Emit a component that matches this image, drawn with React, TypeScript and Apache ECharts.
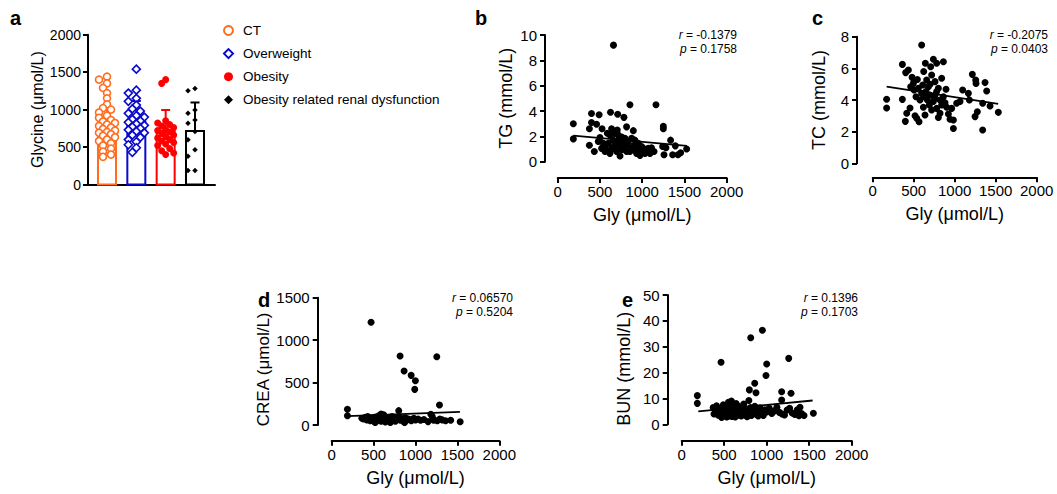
import React, { useEffect, useRef } from "react";
import * as echarts from "echarts";

const FONT = '"Liberation Sans", Arial, Helvetica, sans-serif';

// ---------- Panel a ----------
const GROUPS = ["CT", "Overweight", "Obesity", "Obesity related renal dysfunction"];
const GROUP_COLORS = ["#FF6D1F", "#0A0ACC", "#FF0000", "#000000"];
const GROUP_MEAN = [830, 840, 715, 715];
const GROUP_SD = [200, 275, 280, 380];
const CT_VALUES = [1440, 1400, 1350, 1290, 1220, 1150, 1070, 1020, 1000, 960, 920, 890, 860, 840, 820, 800, 780, 760, 740, 720, 700, 690, 670, 650, 630, 600, 580, 550, 520, 480, 440, 400, 370];
const OW_VALUES = [1540, 1260, 1220, 1150, 1110, 1060, 1010, 980, 950, 920, 900, 870, 850, 830, 810, 790, 770, 750, 730, 710, 690, 660, 630, 600, 570, 530, 490, 430];
const OB_VALUES = [1400, 1350, 850, 820, 800, 780, 760, 730, 720, 700, 680, 660, 640, 620, 600, 580, 560, 540, 520, 480, 450, 420, 400];
const ORD_VALUES = [1282, 1251, 995, 951, 862, 818, 707, 597, 464, 376, 186, 186];

// ---------- Panel b: TG vs Gly ----------
const TG_POINTS = [
  [660, 9.2], [185, 3.0], [185, 1.8], [400, 3.8], [490, 3.7], [400, 3.1], [460, 2.95], [375, 2.6], [525, 2.6], [625, 3.9],
  [710, 3.75], [784, 3.5], [855, 4.5], [1163, 4.5], [815, 2.75], [895, 2.45], [705, 2.5], [1250, 2.8], [1250, 2.6], [1336, 1.7],
  [1392, 1.25], [1242, 1.2], [1281, 1.1], [1258, 0.55], [1360, 0.55], [1423, 0.55], [1526, 1.0], [1455, 0.7], [375, 1.3], [433, 0.8],
  [500, 1.9], [540, 1.45], [580, 0.9], [618, 2.1], [658, 1.7], [678, 1.3], [697, 0.8], [737, 0.45], [757, 1.95], [776, 1.45],
  [796, 1.05], [836, 1.6], [855, 0.8], [875, 1.85], [895, 1.25], [926, 0.85], [954, 1.45], [974, 0.5], [1013, 1.05], [1052, 0.8],
  [1092, 0.65], [1140, 0.8], [587, 2.25], [638, 2.6], [560, 1.2], [520, 1.05], [480, 1.6], [618, 0.65], [658, 1.05], [717, 1.7],
  [737, 1.2], [816, 0.8], [914, 1.7], [934, 0.65], [993, 1.2], [1033, 0.65], [1072, 1.05], [717, 2.1], [678, 2.2], [796, 1.85],
  [600, 1.45], [560, 0.8], [640, 1.1], [700, 1.55], [760, 0.95], [820, 1.3], [880, 1.05], [940, 1.0], [1000, 0.85], [1110, 1.1],
];
const TG_FIT = [[185, 2.05], [1530, 1.25]];

// ---------- Panel c: TC vs Gly ----------
const TC_POINTS = [
  [170, 4.05], [170, 3.5], [362, 6.25], [402, 5.73], [435, 5.9], [398, 2.65], [362, 4.04], [455, 3.5], [480, 5.43], [496, 5.05],
  [504, 4.63], [516, 3.0], [537, 2.85], [565, 2.63], [545, 5.3], [597, 7.47], [642, 6.32], [622, 5.8], [658, 5.26], [679, 4.84],
  [597, 4.42], [577, 4.0], [618, 3.54], [638, 3.05], [707, 6.1], [740, 6.57], [780, 6.32], [862, 6.42], [719, 5.58], [760, 5.16],
  [801, 4.74], [841, 5.37], [699, 4.32], [740, 3.9], [780, 3.47], [821, 3.16], [719, 3.37], [801, 2.9], [862, 4.21], [882, 3.83],
  [902, 3.54], [923, 3.12], [943, 2.78], [984, 2.74], [984, 2.2], [963, 3.47], [1024, 3.8], [1097, 4.63], [1167, 4.42], [1179, 4.0],
  [1215, 5.62], [1256, 5.26], [1260, 5.05], [1248, 2.95], [1276, 3.26], [1341, 2.1], [1370, 5.1], [1390, 4.57], [1341, 3.8], [1431, 3.62],
  [1532, 3.22], [650, 4.53], [667, 4.0], [691, 3.68], [760, 4.32], [821, 4.0], [841, 3.68], [780, 4.53], [610, 4.95], [557, 4.74],
  [528, 4.21], [463, 4.84], [415, 3.16], [894, 4.68], [1065, 3.9], [700, 5.0], [755, 4.1], [630, 4.2],
];
const TC_FIT = [[170, 4.84], [1530, 3.75]];

// ---------- Panel d: CREA vs Gly ----------
const CREA_POINTS = [
  [470, 1210], [816, 813], [1254, 805], [864, 636], [948, 585], [999, 522], [991, 420], [1286, 236], [188, 185], [188, 110],
  [800, 169], [1183, 126], [1533, 39], [360, 80], [380, 70], [400, 90], [420, 60], [430, 100], [450, 75], [460, 50],
  [480, 85], [500, 60], [510, 40], [520, 95], [540, 70], [550, 55], [560, 110], [575, 80], [590, 45], [600, 65],
  [610, 90], [620, 120], [630, 50], [645, 75], [660, 60], [680, 85], [690, 40], [700, 70], [720, 100], [730, 55],
  [750, 80], [760, 45], [780, 65], [800, 90], [820, 55], [840, 75], [860, 40], [880, 85], [900, 60], [920, 70],
  [950, 50], [980, 80], [1000, 60], [1030, 70], [1060, 55], [1100, 65], [1150, 40], [1200, 100], [1220, 60], [1260, 50],
  [1290, 70], [1320, 60], [1360, 50], [1420, 55], [1214, 60], [590, 130], [700, 30], [640, 35], [520, 30], [870, 30],
];
const CREA_FIT = [[190, 105], [1530, 155]];

// ---------- Panel e: BUN vs Gly ----------
const BUN_POINTS = [
  [184, 11.1], [184, 8.1], [463, 24.0], [949, 36.4], [812, 33.5], [1000, 23.3], [992, 18.9], [859, 15.9], [796, 13.3], [874, 12.2],
  [1259, 25.5], [1176, 12.6], [1286, 12.0], [1176, 9.4], [1549, 4.3], [1439, 3.4], [1392, 6.6],
  [370, 6.5], [380, 4.0], [400, 5.5], [410, 7.2], [430, 3.5], [440, 6.0], [450, 4.8], [470, 2.6], [480, 5.2], [490, 7.5],
  [500, 3.8], [510, 6.2], [520, 4.5], [530, 2.8], [540, 5.8], [550, 8.5], [555, 3.2], [560, 6.8], [570, 4.2], [580, 5.0],
  [585, 9.0], [590, 3.0], [600, 7.2], [605, 5.5], [610, 4.0], [620, 6.0], [630, 2.8], [640, 8.0], [645, 4.6], [650, 5.8],
  [660, 3.5], [670, 7.0], [680, 4.8], [690, 6.2], [700, 3.2], [710, 5.5], [720, 4.2], [730, 7.8], [740, 3.6], [750, 6.0],
  [760, 4.8], [770, 2.9], [780, 5.6], [790, 9.2], [800, 4.2], [810, 6.5], [820, 3.4], [840, 5.2], [860, 7.0], [870, 4.0],
  [890, 5.8], [900, 3.2], [920, 6.4], [940, 4.6], [960, 3.4], [980, 5.6], [1000, 4.8], [1030, 6.2], [1060, 4.2], [1090, 5.2],
  [1120, 6.6], [1150, 4.6], [1180, 4.0], [1210, 3.6], [1240, 5.5], [1270, 6.2], [1300, 4.4], [1330, 3.8], [1360, 5.6], [1380, 3.3], [1410, 4.2],
];
const BUN_FIT = [[195, 5.0], [1540, 9.2]];

const STATS = [
  { r: "-0.1379", p: "0.1758" },
  { r: "-0.2075", p: "0.0403" },
  { r: "0.06570", p: "0.5204" },
  { r: "0.1396", p: "0.1703" },
];

// layout (pixels)
const A_GRID = { left: 88, top: 34.7, width: 127, height: 149.8 };
const A_XMIN = 0.352;
const A_XMAX = 4.682;
const A_PX_PER_UNIT = A_GRID.width / (A_XMAX - A_XMIN);
const A_PX_PER_VAL = A_GRID.height / 2000;

function swarm(values: number[], minDist: number, step: number, maxK: number): number[] {
  const placed: { dx: number; py: number }[] = [];
  return values.map((v) => {
    const py = v * A_PX_PER_VAL;
    let best = 0;
    let bestScore = -1;
    let chosen: number | null = null;
    for (let k = 0; k <= maxK && chosen === null; k++) {
      const cands = k === 0 ? [0] : [-k, k];
      for (const s of cands) {
        const dx = s * step;
        let minD = Infinity;
        for (const p of placed) {
          const d = Math.hypot(p.dx - dx, p.py - py);
          if (d < minD) minD = d;
        }
        if (minD >= minDist) {
          chosen = dx;
          break;
        }
        if (minD > bestScore) {
          bestScore = minD;
          best = dx;
        }
      }
    }
    const dx = chosen === null ? best : chosen;
    placed.push({ dx, py });
    return dx;
  });
}

function groupPoints(values: number[], g: number, minDist: number, step: number, maxK: number) {
  const offs = swarm(values, minDist, step, maxK);
  return values.map((v, i) => [g + offs[i] / A_PX_PER_UNIT, v]);
}

export default function App() {
  const ref = useRef<HTMLDivElement>(null);
  useEffect(() => {
    if (!ref.current) return;
    const chart = echarts.init(ref.current, undefined, { renderer: "svg" });

    const axisLine = { show: true, onZero: false, lineStyle: { color: "#000", width: 2 } };
    const axisTick = { show: true, length: 5, lineStyle: { color: "#000", width: 2 } };
    const label = (fs: number, margin: number) => ({
      color: "#000", fontSize: fs, fontFamily: FONT, margin, formatter: (v: number) => String(v),
    });
    const nameStyle = (fs: number, shiftDown = 0) => ({
      color: "#000", fontSize: fs, fontFamily: FONT, padding: [0, shiftDown * 2, 0, 0],
    });

    const panels = [
      { grid: { left: 557.7, top: 35, width: 169, height: 126.7 }, yOff: 12.7, xOff: 16.3, ymax: 10, yint: 2, name: "TG (mmol/L)", gap: 30, nfs: 18, shift: 0, pts: TG_POINTS, fit: TG_FIT },
      { grid: { left: 872.7, top: 36.7, width: 164, height: 126.6 }, yOff: 15.7, xOff: 14, ymax: 8, yint: 2, name: "TC (mmol/L)", gap: 29, nfs: 18, shift: 0, pts: TC_POINTS, fit: TC_FIT },
      { grid: { left: 331.7, top: 297.7, width: 167.6, height: 127.3 }, yOff: 14, xOff: 15.7, ymax: 1500, yint: 500, name: "CREA (μmol/L)", gap: 46, nfs: 17, shift: 8, pts: CREA_POINTS, fit: CREA_FIT },
      { grid: { left: 681.7, top: 295, width: 170, height: 129.3 }, yOff: 14, xOff: 16.4, ymax: 50, yint: 10, name: "BUN (mmol/L)", gap: 35, nfs: 18, shift: 9, pts: BUN_POINTS, fit: BUN_FIT },
    ];

    const grids: any[] = [{ ...A_GRID, outerBoundsMode: "none" }];
    const xAxes: any[] = [
      {
        gridIndex: 0, type: "value", min: A_XMIN, max: A_XMAX, position: "bottom",
        axisLine, axisTick: { show: false }, axisLabel: { show: false }, splitLine: { show: false },
      },
    ];
    const yAxes: any[] = [
      {
        gridIndex: 0, type: "value", min: 0, max: 2000, interval: 500, position: "left",
        axisLine, axisTick, splitLine: { show: false },
        axisLabel: label(14, 7),
        name: "Glycine (μmol/L)", nameLocation: "middle", nameGap: 43, nameTextStyle: nameStyle(16),
      },
    ];

    const series: any[] = [
      {
        type: "custom", xAxisIndex: 0, yAxisIndex: 0, z: 1,
        data: GROUP_MEAN.map((m, i) => [i + 1, m, GROUP_SD[i]]),
        encode: { x: 0, y: 1 },
        renderItem: (params: any, api: any) => {
          const g = api.value(0);
          const m = api.value(1);
          const s = api.value(2);
          const base = api.coord([g, 0]);
          const top = api.coord([g, m]);
          const err = api.coord([g, m + s]);
          const color = GROUP_COLORS[params.dataIndex];
          const hw = 9;
          return {
            type: "group",
            children: [
              { type: "rect", shape: { x: base[0] - hw, y: top[1], width: hw * 2, height: base[1] - top[1] }, style: { fill: "none", stroke: color, lineWidth: 2 } },
              { type: "line", shape: { x1: top[0], y1: top[1], x2: err[0], y2: err[1] }, style: { stroke: color, lineWidth: 2 } },
              { type: "line", shape: { x1: err[0] - 4.5, y1: err[1], x2: err[0] + 4.5, y2: err[1] }, style: { stroke: color, lineWidth: 2 } },
            ],
          };
        },
      },
      {
        name: GROUPS[0], type: "scatter", xAxisIndex: 0, yAxisIndex: 0, z: 3,
        symbol: "circle", symbolSize: 7,
        itemStyle: { color: "#ffffff", borderColor: GROUP_COLORS[0], borderWidth: 1.6, opacity: 1 },
        data: groupPoints(CT_VALUES, 1, 5, 4, 2),
      },
      {
        name: GROUPS[1], type: "scatter", xAxisIndex: 0, yAxisIndex: 0, z: 3,
        symbol: "diamond", symbolSize: 8,
        itemStyle: { color: "#ffffff", borderColor: GROUP_COLORS[1], borderWidth: 1.6, opacity: 1 },
        data: groupPoints(OW_VALUES, 2, 5, 4, 2),
      },
      {
        name: GROUPS[2], type: "scatter", xAxisIndex: 0, yAxisIndex: 0, z: 3,
        symbol: "circle", symbolSize: 7,
        itemStyle: { color: GROUP_COLORS[2], opacity: 1 },
        data: groupPoints(OB_VALUES, 3, 5, 4, 2),
      },
      {
        name: GROUPS[3], type: "scatter", xAxisIndex: 0, yAxisIndex: 0, z: 3,
        symbol: "diamond", symbolSize: 5.5,
        itemStyle: { color: GROUP_COLORS[3], opacity: 1 },
        data: groupPoints(ORD_VALUES, 4, 9, 7, 1),
      },
    ];

    panels.forEach((p, i) => {
      const gi = i + 1;
      grids.push({ ...p.grid, outerBoundsMode: "none" });
      xAxes.push({
        gridIndex: gi, type: "value", min: 0, max: 2000, interval: 500, position: "bottom", offset: p.xOff,
        axisLine, axisTick, splitLine: { show: false }, axisLabel: label(15, 6),
        name: "Gly (μmol/L)", nameLocation: "middle", nameGap: 28, nameTextStyle: nameStyle(18),
      });
      yAxes.push({
        gridIndex: gi, type: "value", min: 0, max: p.ymax, interval: p.yint, position: "left", offset: p.yOff,
        axisLine, axisTick, splitLine: { show: false }, axisLabel: label(15, 8),
        name: p.name, nameLocation: "middle", nameGap: p.gap, nameTextStyle: nameStyle(p.nfs, p.shift),
      });
      series.push({
        type: "scatter", xAxisIndex: gi, yAxisIndex: gi, symbol: "circle", symbolSize: 7, z: 2,
        itemStyle: { color: "#000", opacity: 1 }, data: p.pts,
      });
      series.push({
        type: "line", xAxisIndex: gi, yAxisIndex: gi, showSymbol: false, symbol: "none", z: 4,
        lineStyle: { color: "#000", width: 1.8 }, data: p.fit, silent: true,
      });
    });

    const statPos = [
      { x: 737, y: 35 },
      { x: 1048, y: 35 },
      { x: 513, y: 298 },
      { x: 858, y: 298 },
    ];
    const rich = { i: { fontStyle: "italic", fontSize: 12, fontFamily: FONT, fill: "#000" }, n: { fontSize: 12, fontFamily: FONT, fill: "#000" } };
    const statTexts: any[] = [];
    STATS.forEach((s, i) => {
      statTexts.push({
        type: "text", x: statPos[i].x, y: statPos[i].y,
        style: { text: `{i|r}{n| = ${s.r}}`, rich, align: "right", verticalAlign: "middle", fontSize: 12, fontFamily: FONT, fill: "#000" },
      });
      statTexts.push({
        type: "text", x: statPos[i].x, y: statPos[i].y + 14,
        style: { text: `{i|p}{n| = ${s.p}}`, rich, align: "right", verticalAlign: "middle", fontSize: 12, fontFamily: FONT, fill: "#000" },
      });
    });

    const letters = [
      { t: "a", x: 10, y: 18 },
      { t: "b", x: 475, y: 18 },
      { t: "c", x: 812, y: 18 },
      { t: "d", x: 258, y: 300 },
      { t: "e", x: 622, y: 300 },
    ].map((l) => ({
      type: "text", x: l.x, y: l.y,
      style: { text: l.t, fontSize: 20, fontWeight: "bold", fontFamily: FONT, fill: "#000", align: "left", verticalAlign: "middle" },
    }));

    chart.setOption({
      animation: false,
      backgroundColor: "#ffffff",
      grid: grids,
      xAxis: xAxes,
      yAxis: yAxes,
      series,
      legend: {
        show: true,
        orient: "vertical",
        left: 218,
        top: 18.5,
        itemWidth: 9,
        itemHeight: 9,
        itemGap: 9.1,
        data: GROUPS,
        textStyle: { color: "#000", fontSize: 13.5, fontFamily: FONT, padding: [0, 0, 0, 5] },
        selectedMode: false,
      },
      graphic: [...statTexts, ...letters],
    });
    return () => chart.dispose();
  }, []);
  return <div ref={ref} style={{ position: "fixed", left: 0, top: 0, width: 1057, height: 494 }} />;
}
